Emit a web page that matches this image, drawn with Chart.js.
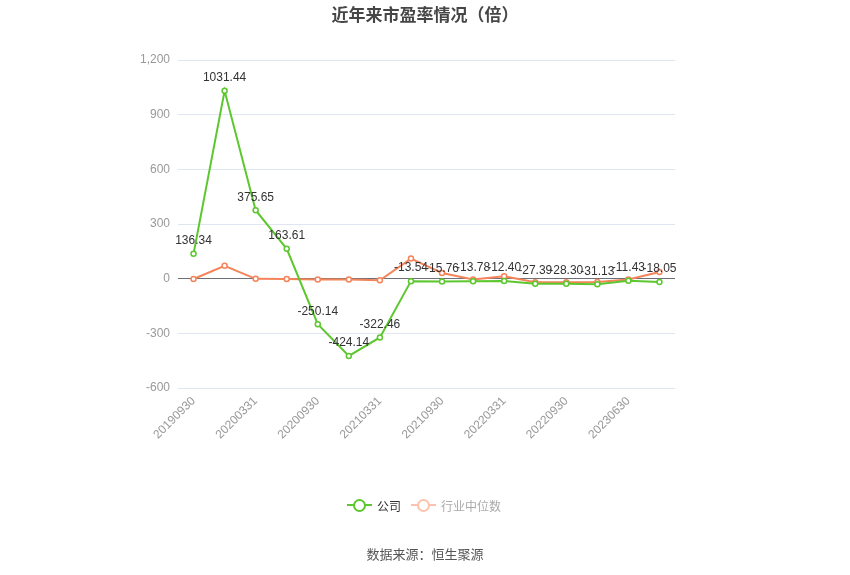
<!DOCTYPE html>
<html><head><meta charset="utf-8">
<script src="https://cdn.jsdelivr.net/npm/chart.js@4.4.1/dist/chart.umd.min.js"></script>
<style>
html,body{margin:0;padding:0;background:#fff;}
#wrap{position:relative;width:850px;height:575px;font-family:"Liberation Sans","Noto Sans CJK SC",sans-serif;}
#c{position:absolute;left:0;top:0;}
.title{position:absolute;left:0;width:850px;top:1px;text-align:center;font-size:17px;font-weight:bold;color:#464646;font-family:"Noto Sans CJK SC",sans-serif;}
.src{position:absolute;left:0;width:850px;top:544px;text-align:center;font-size:13px;color:#555;font-family:"Noto Sans CJK SC",sans-serif;}
.legend{position:absolute;top:496px;left:347px;height:18px;font-size:12px;font-family:"Noto Sans CJK SC",sans-serif;display:flex;align-items:center;}
.li{display:flex;align-items:center;margin-right:10px;}
.sym{position:relative;width:25px;height:14px;margin-right:5px;}
.sym .ln{position:absolute;left:0;top:6px;width:25px;height:2px;}
.sym .ci{position:absolute;left:6px;top:1px;width:9px;height:9px;border-radius:50%;background:#fff;border:2px solid;}
</style></head>
<body><div id="wrap">
<canvas id="c" width="850" height="575"></canvas>
<div class="title">近年来市盈率情况（倍）</div>
<div class="legend">
 <div class="li"><div class="sym"><div class="ln" style="background:#5cc72e"></div><div class="ci" style="border-color:#5cc72e"></div></div><span style="color:#333">公司</span></div>
 <div class="li"><div class="sym"><div class="ln" style="background:#fbc3ad"></div><div class="ci" style="border-color:#fbc3ad"></div></div><span style="color:#aaa">行业中位数</span></div>
</div>
<div class="src">数据来源：恒生聚源</div>
</div>
<script>
const categories = ["20190930","20191231","20200331","20200630","20200930","20201231","20210331","20210630","20210930","20211231","20220331","20220630","20220930","20221231","20230630","20230930"];
const companyPE = [136.34,1031.44,375.65,163.61,-250.14,-424.14,-322.46,-13.54,-15.76,-13.78,-12.40,-27.39,-28.30,-31.13,-11.43,-18.05];
const industryPE = [-2,71,-1,-2,-5,-5,-9,110,31,-5,13,-20,-20,-18,-5,37];
const yTicks = [-600,-300,0,300,600,900,1200];

const GREEN = "#5cc72e", ORANGE = "#f4845a";

const labelPlugin = {
  id: "valLabels",
  afterDatasetsDraw(chart) {
    const ctx = chart.ctx;
    const meta = chart.getDatasetMeta(0);
    ctx.save();
    ctx.font = "12px 'Liberation Sans', sans-serif";
    ctx.fillStyle = "#333";
    ctx.textAlign = "center";
    ctx.textBaseline = "bottom";
    meta.data.forEach((pt, i) => {
      ctx.fillText(companyPE[i].toFixed(2), pt.x, pt.y - 7);
    });
    ctx.restore();
  }
};

new Chart(document.getElementById("c"), {
  type: "line",
  data: {
    labels: categories,
    datasets: [
      {label:"公司", data: companyPE, borderColor: GREEN, backgroundColor:"#fff", pointBackgroundColor:"#fff", pointBorderColor: GREEN, borderWidth:2, pointRadius:2.5, pointBorderWidth:1.5, tension:0},
      {label:"行业中位数", data: industryPE, borderColor: ORANGE, backgroundColor:"#fff", pointBackgroundColor:"#fff", pointBorderColor: ORANGE, borderWidth:2, pointRadius:2.5, pointBorderWidth:1.5, tension:0}
    ]
  },
  options: {
    responsive: false,
    animation: false,
    devicePixelRatio: 1,
    layout: { padding: { left: 0, right: 175, top: 60, bottom: 0 } },
    plugins: { legend: { display: false }, title: { display: false }, tooltip: { enabled: false } },
    scales: {
      x: {
        offset: true,
        grid: { display: false },
        border: { display: false },
        ticks: {
          autoSkip: false, minRotation: 45, maxRotation: 45, padding: -2,
          color: "#999", font: { size: 12, family: "'Liberation Sans', sans-serif" },
          callback: (v, i) => (i % 2 === 0 ? categories[i] : "")
        },
        afterFit: (s) => { s.height = 575 - 388 - 0; }
      },
      y: {
        min: -600, max: 1200,
        afterBuildTicks: (s) => { s.ticks = yTicks.map(v => ({ value: v })); },
        grid: {
          drawTicks: false,
          color: (c) => (c.tick && c.tick.value === 0 ? "#6e7079" : "#e0e6f1"),
          lineWidth: 1
        },
        border: { display: false },
        ticks: {
          padding: 8, color: "#999", font: { size: 12, family: "'Liberation Sans', sans-serif" },
          callback: (v) => v.toLocaleString("en-US")
        },
        afterFit: (s) => { s.width = 178; }
      }
    }
  },
  plugins: [labelPlugin]
});
</script>
</body></html>
